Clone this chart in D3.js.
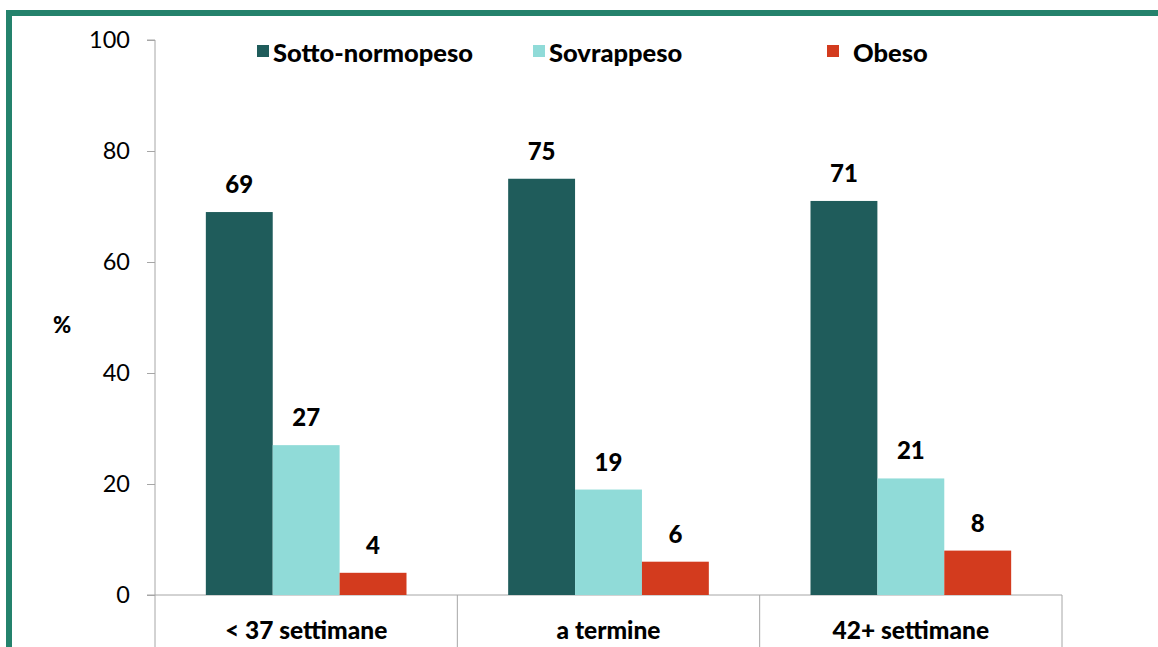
<!DOCTYPE html>
<html>
<head>
<meta charset="utf-8">
<script src="https://cdn.jsdelivr.net/npm/d3@7"></script>
<style>
  body { margin: 0; background: #fff; }
  svg { display: block; font-family: Lato, "Open Sans", sans-serif; }
</style>
</head>
<body>
<div id="chart"></div>
<script>
// Categories and series
const categories = ['< 37 settimane', 'a termine', '42+ settimane'];
const seriesNames = ['Sotto-normopeso', 'Sovrappeso', 'Obeso'];
const sottoNormopeso = [69, 75, 71];
const sovrappeso = [27, 19, 21];
const obeso = [4, 6, 8];
const yTicks = [0, 20, 40, 60, 80, 100];

const colors = ['#1f5c5b', '#90dbd8', '#d33b1e'];

const width = 1158;
const height = 647;
const margin = { top: 40, left: 155, right: 96, bottom: 52 };

const svg = d3.select('#chart')
  .append('svg')
  .attr('width', width)
  .attr('height', height);

// Green frame
svg.append('rect')
  .attr('x', 9)
  .attr('y', 13)
  .attr('width', width + 20)
  .attr('height', height + 20)
  .attr('fill', 'none')
  .attr('stroke', '#24826c')
  .attr('stroke-width', 6);

const x0 = d3.scaleBand()
  .domain(categories)
  .range([margin.left, width - margin.right])
  .paddingInner(0)
  .paddingOuter(0);

const x1 = d3.scaleBand()
  .domain(seriesNames)
  .range([0, x0.bandwidth()])
  .paddingOuter(0.76)
  .paddingInner(0);

const y = d3.scaleLinear()
  .domain([0, 100])
  .range([height - margin.bottom, margin.top]);

const data = categories.map((c, i) => ({
  category: c,
  values: [sottoNormopeso[i], sovrappeso[i], obeso[i]]
}));

// Y axis
const yAxis = svg.append('g')
  .attr('transform', `translate(${margin.left},0)`)
  .call(d3.axisLeft(y).tickValues(yTicks).tickSize(8).tickPadding(17));
yAxis.selectAll('path, line').attr('stroke', '#a6a6a6');
yAxis.select('.domain').attr('d', `M-8,${y(100)}H0V${y(0)}`);
yAxis.selectAll('text')
  .attr('font-size', 23.5)
  .attr('fill', '#000')
  .attr('font-family', 'Lato, "Open Sans", sans-serif');

// X axis baseline and category dividers
const xAxis = svg.append('g');
xAxis.append('line')
  .attr('x1', margin.left - 8)
  .attr('x2', width - margin.right)
  .attr('y1', y(0))
  .attr('y2', y(0))
  .attr('stroke', '#a6a6a6');
const edges = categories.map(c => x0(c)).concat([x0(categories[2]) + x0.bandwidth()]);
xAxis.selectAll('.divider')
  .data(edges)
  .enter()
  .append('line')
  .attr('x1', d => d)
  .attr('x2', d => d)
  .attr('y1', y(0))
  .attr('y2', height)
  .attr('stroke', '#a6a6a6');
xAxis.selectAll('.cat')
  .data(categories)
  .enter()
  .append('text')
  .attr('x', d => x0(d) + x0.bandwidth() / 2)
  .attr('y', 639)
  .attr('text-anchor', 'middle')
  .attr('font-size', 24.5)
  .attr('font-weight', 900)
  .text(d => d);

// Bars
const groups = svg.selectAll('.group')
  .data(data)
  .enter()
  .append('g')
  .attr('transform', d => `translate(${x0(d.category)},0)`);

groups.selectAll('rect')
  .data(d => d.values.map((v, i) => ({ name: seriesNames[i], value: v, i })))
  .enter()
  .append('rect')
  .attr('x', d => x1(d.name))
  .attr('y', d => y(d.value))
  .attr('width', x1.bandwidth())
  .attr('height', d => y(0) - y(d.value))
  .attr('fill', d => colors[d.i]);

groups.selectAll('.val')
  .data(d => d.values.map((v, i) => ({ name: seriesNames[i], value: v })))
  .enter()
  .append('text')
  .attr('x', d => x1(d.name) + x1.bandwidth() / 2)
  .attr('y', d => y(d.value) - 19)
  .attr('text-anchor', 'middle')
  .attr('font-size', 24)
  .attr('font-weight', 900)
  .text(d => d.value);

// Y label
svg.append('text')
  .attr('x', 62)
  .attr('y', 333)
  .attr('text-anchor', 'middle')
  .attr('font-size', 22)
  .attr('font-weight', 900)
  .text('%');

// Legend
const legendX = [257, 533, 827];
const legend = svg.selectAll('.legend')
  .data(seriesNames)
  .enter()
  .append('g')
  .attr('transform', (d, i) => `translate(${legendX[i]},45)`);
legend.append('rect')
  .attr('width', 12)
  .attr('height', 12)
  .attr('fill', (d, i) => colors[i]);
legend.append('text')
  .attr('x', (d, i) => i === 2 ? 26 : 16)
  .attr('y', 17)
  .attr('font-size', 25.5)
  .attr('font-weight', 900)
  .text(d => d);
</script>
</body>
</html>
